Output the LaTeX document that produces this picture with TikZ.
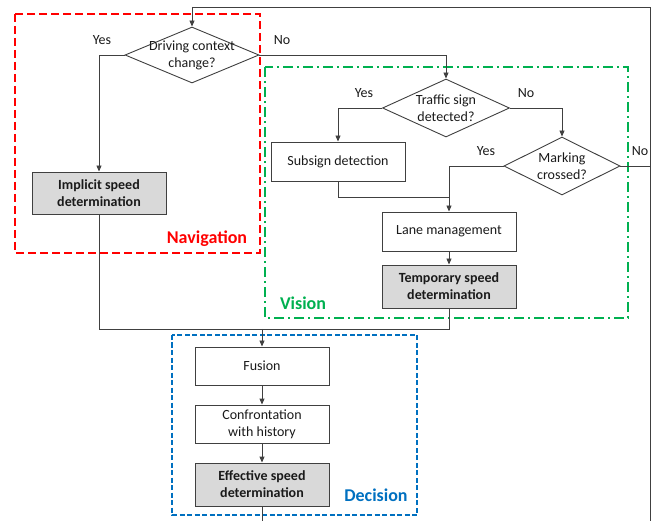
\documentclass[tikz,border=0pt]{standalone}
\usepackage{fontspec}
\setmainfont{Carlito}
\usetikzlibrary{shapes.geometric,arrows.meta}
\definecolor{lc}{HTML}{404040}
\definecolor{tc}{HTML}{1A1A1A}
\definecolor{gfill}{HTML}{D9D9D9}
\definecolor{navred}{HTML}{FF0000}
\definecolor{visgreen}{HTML}{00B050}
\definecolor{decblue}{HTML}{0070C0}
\tikzset{
  every node/.style={font=\fontsize{14}{17}\selectfont, text=tc},
  procbox/.style={draw=lc, line width=0.9pt, rectangle, minimum width=134pt, inner sep=0pt, align=center},
  keybox/.style={procbox, fill=gfill, font=\fontsize{14}{17}\selectfont\bfseries},
  dia/.style={draw=lc, line width=0.9pt, diamond, inner sep=0pt},
  conn/.style={draw=lc, line width=0.9pt},
  arr/.style={conn, -{Triangle[length=6pt,width=5pt]}},
  yn/.style={font=\fontsize{14}{17}\selectfont},
  grp/.style={line width=2pt},
  grplabel/.style={font=\fontsize{18}{21}\selectfont\bfseries}
}
\begin{document}
\begin{tikzpicture}[x=1pt,y=-1pt]
\useasboundingbox (0,0) rectangle (656,521);
% group frames
\draw[grp, navred, dash pattern=on 8pt off 4pt] (15,14) rectangle (260,253);
\draw[grp, visgreen, dash pattern=on 10pt off 4pt on 2pt off 4pt] (265,67) rectangle (628,318);
\draw[grp, decblue, line width=1.8pt, dash pattern=on 5pt off 2.5pt] (172,335) rectangle (417,515);
\node[grplabel, text=navred] (navl) at (207,239) {Navigation};
\node[grplabel, text=visgreen] (visl) at (303,303) {Vision};
\node[grplabel, text=decblue] (decl) at (376,495) {Decision};
% diamonds
\node[dia, minimum width=134pt, minimum height=56pt] (d1) at (192,55) {};
\node[align=center] (d1t) at (d1.center) {Driving context\\change?};
\node[dia, minimum width=127pt, minimum height=58pt] (d2) at (446,108) {};
\node[align=center] (d2t) at (d2.center) {Traffic sign\\detected?};
\node[dia, minimum width=116pt, minimum height=58pt] (d3) at (562,166) {};
\node[align=center] (d3t) at (d3.center) {Marking\\crossed?};
% boxes
\node[keybox, minimum height=42pt] (impl) at (99,193) {Implicit speed\\determination};
\node[procbox, minimum height=39pt] (sub) at (338,161.5) {Subsign detection};
\node[procbox, minimum height=39pt] (lane) at (449,231.5) {Lane management};
\node[keybox, minimum height=43pt] (temp) at (449,286.5) {Temporary speed\\determination};
\node[procbox, minimum height=38pt] (fus) at (262,366) {Fusion};
\node[procbox, minimum height=38pt] (conf) at (262,424) {Confrontation\\with history};
\node[keybox, minimum height=43pt] (eff) at (262,484.5) {Effective speed\\determination};
% yes/no labels
\node[yn] (y1) at (102,40) {Yes};
\node[yn] (n1) at (282,40) {No};
\node[yn] (y2) at (364,93) {Yes};
\node[yn] (n2) at (526,93) {No};
\node[yn] (y3) at (486,151) {Yes};
\node[yn] (n3) at (640,151) {No};
% helper coordinates
\coordinate (botL) at (262,521);
\coordinate (botR) at (650,521);
\coordinate (topR) at (650,7);
\coordinate (topL) at (192,7);
\coordinate (j1) at (449,197);
\coordinate (j2) at (262,329);
% connectors
\draw[conn] (eff.south) -- (botL);
\draw[conn] (botR) -- (topR) -- (topL);
\draw[arr] (topL) -- (d1.north);
\draw[arr] (d1.west) -| (impl.north);
\draw[arr] (d1.east) -| (d2.north);
\draw[arr] (d2.west) -| (sub.north);
\draw[arr] (d2.east) -| (d3.north);
\draw[conn] (d3.east) -- (topR |- d3.east);
\draw[arr] (d3.west) -| (lane.north);
\draw[conn] (sub.south) |- (j1);
\draw[arr] (lane) -- (temp);
\draw[conn] (temp.south) |- (j2);
\draw[conn] (impl.south) |- (j2);
\draw[arr] (j2) -- (fus.north);
\draw[arr] (fus) -- (conf);
\draw[arr] (conf) -- (eff);
\end{tikzpicture}
\end{document}
